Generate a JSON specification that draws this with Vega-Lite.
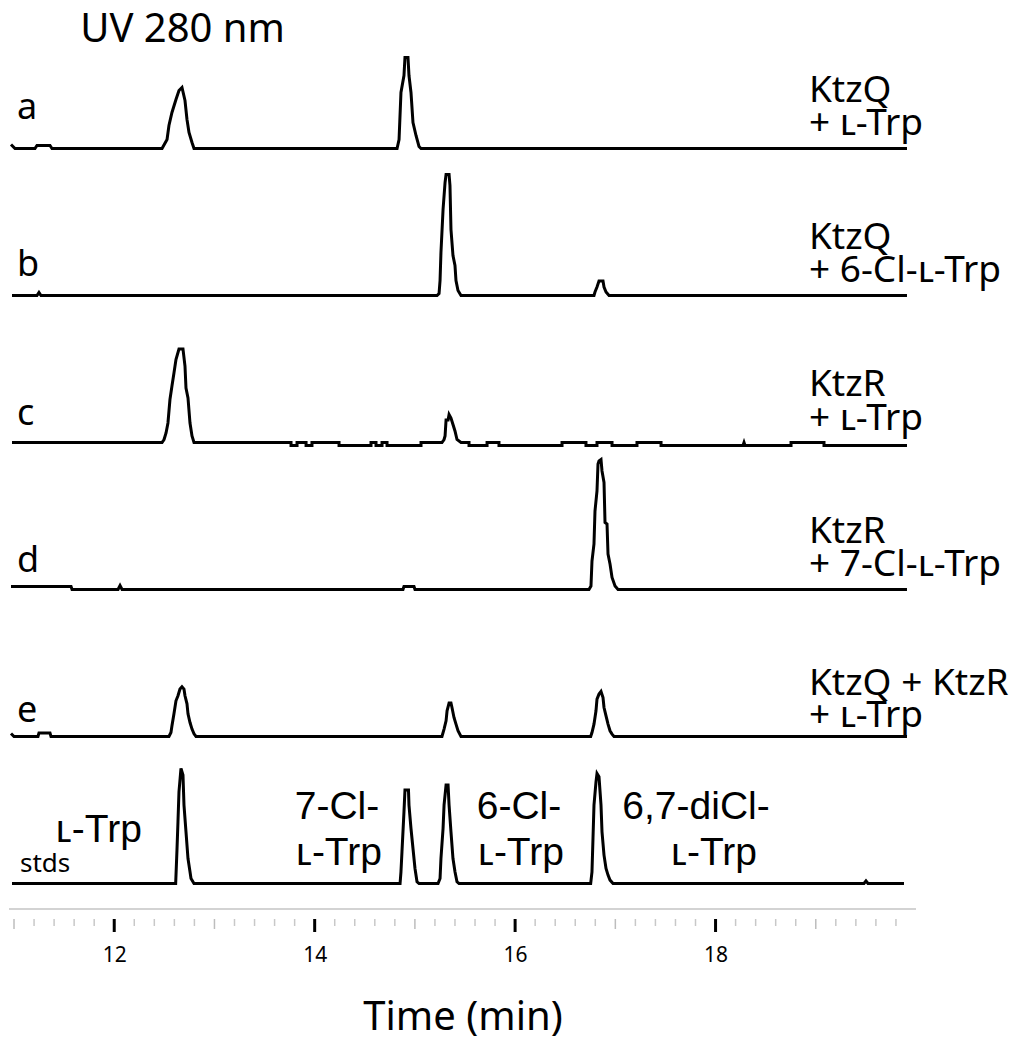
{
"$schema": "https://vega.github.io/schema/vega-lite/v6.json",
"padding": {"left": 5, "top": 10, "right": 0, "bottom": 0},
"background": "white",
"bounds": "flush",
"config": {"view": {"stroke": null}, "font": "Noto Sans"},
"data": {"values": [
{"p":"a","t":10.97,"v":4},{"p":"a","t":11.01,"v":0},{"p":"a","t":11.209,"v":0},{"p":"a","t":11.229,"v":3},{"p":"a","t":11.359,"v":3},{"p":"a","t":11.379,"v":0},{"p":"a","t":12.477,"v":0},{"p":"a","t":12.527,"v":9},{"p":"a","t":12.546,"v":23},{"p":"a","t":12.576,"v":36},{"p":"a","t":12.616,"v":49},{"p":"a","t":12.646,"v":58},{"p":"a","t":12.676,"v":61},{"p":"a","t":12.706,"v":48},{"p":"a","t":12.726,"v":29},{"p":"a","t":12.746,"v":16},{"p":"a","t":12.776,"v":6},{"p":"a","t":12.796,"v":0},{"p":"a","t":14.822,"v":0},{"p":"a","t":14.842,"v":9},{"p":"a","t":14.861,"v":56},{"p":"a","t":14.891,"v":73},{"p":"a","t":14.901,"v":91},{"p":"a","t":14.931,"v":91},{"p":"a","t":14.941,"v":73},{"p":"a","t":14.961,"v":56},{"p":"a","t":14.981,"v":26},{"p":"a","t":15.011,"v":13},{"p":"a","t":15.041,"v":2},{"p":"a","t":15.061,"v":0},{"p":"a","t":19.91,"v":0},
{"p":"b","t":10.98,"v":0},{"p":"b","t":11.229,"v":0},{"p":"b","t":11.249,"v":3},{"p":"b","t":11.269,"v":0},{"p":"b","t":15.221,"v":0},{"p":"b","t":15.241,"v":2},{"p":"b","t":15.251,"v":15},{"p":"b","t":15.26,"v":43},{"p":"b","t":15.281,"v":86},{"p":"b","t":15.301,"v":113},{"p":"b","t":15.311,"v":121},{"p":"b","t":15.341,"v":121},{"p":"b","t":15.35,"v":110},{"p":"b","t":15.36,"v":66},{"p":"b","t":15.38,"v":40},{"p":"b","t":15.4,"v":30},{"p":"b","t":15.41,"v":15},{"p":"b","t":15.43,"v":5},{"p":"b","t":15.46,"v":0},{"p":"b","t":16.787,"v":0},{"p":"b","t":16.797,"v":3.5},{"p":"b","t":16.817,"v":8.5},{"p":"b","t":16.837,"v":14.5},{"p":"b","t":16.877,"v":14.5},{"p":"b","t":16.887,"v":8.5},{"p":"b","t":16.907,"v":3.5},{"p":"b","t":16.937,"v":0},{"p":"b","t":19.91,"v":0},
{"p":"c","t":10.98,"v":0},{"p":"c","t":12.477,"v":0},{"p":"c","t":12.497,"v":3},{"p":"c","t":12.517,"v":9.5},{"p":"c","t":12.536,"v":19.5},{"p":"c","t":12.556,"v":43},{"p":"c","t":12.576,"v":56.5},{"p":"c","t":12.596,"v":69.5},{"p":"c","t":12.616,"v":83},{"p":"c","t":12.646,"v":93.5},{"p":"c","t":12.686,"v":93.5},{"p":"c","t":12.706,"v":76.5},{"p":"c","t":12.716,"v":54.5},{"p":"c","t":12.736,"v":44.5},{"p":"c","t":12.756,"v":19.5},{"p":"c","t":12.776,"v":6.5},{"p":"c","t":12.796,"v":0},{"p":"c","t":13.764,"v":0},{"p":"c","t":13.764,"v":-3},{"p":"c","t":13.824,"v":-3},{"p":"c","t":13.824,"v":0},{"p":"c","t":13.914,"v":0},{"p":"c","t":13.914,"v":-3},{"p":"c","t":13.973,"v":-3},{"p":"c","t":13.973,"v":0},{"p":"c","t":14.243,"v":0},{"p":"c","t":14.243,"v":-3},{"p":"c","t":14.562,"v":-3},{"p":"c","t":14.562,"v":0},{"p":"c","t":14.612,"v":0},{"p":"c","t":14.612,"v":-3},{"p":"c","t":14.672,"v":-3},{"p":"c","t":14.672,"v":0},{"p":"c","t":14.722,"v":0},{"p":"c","t":14.722,"v":-3},{"p":"c","t":15.061,"v":-3},{"p":"c","t":15.061,"v":0},{"p":"c","t":15.27,"v":0},{"p":"c","t":15.291,"v":3},{"p":"c","t":15.301,"v":6.5},{"p":"c","t":15.311,"v":22.5},{"p":"c","t":15.331,"v":22.5},{"p":"c","t":15.341,"v":28},{"p":"c","t":15.36,"v":24.5},{"p":"c","t":15.38,"v":18},{"p":"c","t":15.4,"v":11.5},{"p":"c","t":15.42,"v":3},{"p":"c","t":15.46,"v":0},{"p":"c","t":15.54,"v":0},{"p":"c","t":15.54,"v":-3},{"p":"c","t":15.72,"v":-3},{"p":"c","t":15.72,"v":0},{"p":"c","t":15.839,"v":0},{"p":"c","t":15.839,"v":-3},{"p":"c","t":16.468,"v":-3},{"p":"c","t":16.468,"v":0},{"p":"c","t":16.707,"v":0},{"p":"c","t":16.707,"v":-3},{"p":"c","t":16.817,"v":-3},{"p":"c","t":16.817,"v":0},{"p":"c","t":16.967,"v":0},{"p":"c","t":16.967,"v":-3},{"p":"c","t":17.216,"v":-3},{"p":"c","t":17.216,"v":0},{"p":"c","t":17.456,"v":0},{"p":"c","t":17.456,"v":-3},{"p":"c","t":18.274,"v":-3},{"p":"c","t":18.284,"v":0},{"p":"c","t":18.294,"v":-3},{"p":"c","t":18.753,"v":-3},{"p":"c","t":18.753,"v":0},{"p":"c","t":19.082,"v":0},{"p":"c","t":19.082,"v":-3},{"p":"c","t":19.91,"v":-3},
{"p":"d","t":10.97,"v":3},{"p":"d","t":11.569,"v":3},{"p":"d","t":11.579,"v":0},{"p":"d","t":12.038,"v":0},{"p":"d","t":12.058,"v":4},{"p":"d","t":12.078,"v":0},{"p":"d","t":14.881,"v":0},{"p":"d","t":14.891,"v":3},{"p":"d","t":14.991,"v":3},{"p":"d","t":15.001,"v":0},{"p":"d","t":16.737,"v":0},{"p":"d","t":16.757,"v":3.5},{"p":"d","t":16.767,"v":28.5},{"p":"d","t":16.787,"v":45.5},{"p":"d","t":16.797,"v":78.5},{"p":"d","t":16.817,"v":98.5},{"p":"d","t":16.827,"v":125.5},{"p":"d","t":16.837,"v":128.5},{"p":"d","t":16.857,"v":130},{"p":"d","t":16.867,"v":118.5},{"p":"d","t":16.887,"v":107},{"p":"d","t":16.897,"v":67},{"p":"d","t":16.917,"v":65.5},{"p":"d","t":16.927,"v":35.5},{"p":"d","t":16.947,"v":25.5},{"p":"d","t":16.967,"v":12},{"p":"d","t":16.997,"v":3.5},{"p":"d","t":17.027,"v":0},{"p":"d","t":19.91,"v":0},
{"p":"e","t":10.97,"v":3},{"p":"e","t":11.0,"v":0},{"p":"e","t":11.239,"v":0},{"p":"e","t":11.249,"v":3.5},{"p":"e","t":11.359,"v":3.5},{"p":"e","t":11.369,"v":0},{"p":"e","t":12.546,"v":0},{"p":"e","t":12.566,"v":4},{"p":"e","t":12.576,"v":10.7},{"p":"e","t":12.596,"v":22.7},{"p":"e","t":12.616,"v":35.7},{"p":"e","t":12.636,"v":40.7},{"p":"e","t":12.656,"v":47.4},{"p":"e","t":12.676,"v":49.7},{"p":"e","t":12.696,"v":47.4},{"p":"e","t":12.706,"v":40.7},{"p":"e","t":12.726,"v":32.7},{"p":"e","t":12.736,"v":22.7},{"p":"e","t":12.756,"v":14},{"p":"e","t":12.776,"v":7.4},{"p":"e","t":12.796,"v":2.7},{"p":"e","t":12.816,"v":0},{"p":"e","t":15.27,"v":0},{"p":"e","t":15.291,"v":7.4},{"p":"e","t":15.311,"v":15.7},{"p":"e","t":15.321,"v":25.7},{"p":"e","t":15.341,"v":33.4},{"p":"e","t":15.36,"v":33.4},{"p":"e","t":15.37,"v":29},{"p":"e","t":15.39,"v":19},{"p":"e","t":15.41,"v":12.4},{"p":"e","t":15.43,"v":5.7},{"p":"e","t":15.46,"v":0},{"p":"e","t":16.754,"v":0},{"p":"e","t":16.767,"v":4},{"p":"e","t":16.787,"v":12.4},{"p":"e","t":16.807,"v":25.7},{"p":"e","t":16.817,"v":37.4},{"p":"e","t":16.837,"v":42.4},{"p":"e","t":16.857,"v":45},{"p":"e","t":16.877,"v":39},{"p":"e","t":16.887,"v":29},{"p":"e","t":16.907,"v":20.7},{"p":"e","t":16.927,"v":12.4},{"p":"e","t":16.947,"v":5.7},{"p":"e","t":16.967,"v":2.4},{"p":"e","t":16.987,"v":0},{"p":"e","t":19.91,"v":0},
{"p":"stds","t":10.98,"v":0},{"p":"stds","t":12.613,"v":0},{"p":"stds","t":12.626,"v":33.4},{"p":"stds","t":12.636,"v":61.7},{"p":"stds","t":12.646,"v":91.7},{"p":"stds","t":12.666,"v":115},{"p":"stds","t":12.686,"v":108.4},{"p":"stds","t":12.696,"v":78.4},{"p":"stds","t":12.716,"v":51.7},{"p":"stds","t":12.736,"v":25},{"p":"stds","t":12.756,"v":11.7},{"p":"stds","t":12.766,"v":5},{"p":"stds","t":12.796,"v":0},{"p":"stds","t":14.852,"v":0},{"p":"stds","t":14.861,"v":11.7},{"p":"stds","t":14.871,"v":31.7},{"p":"stds","t":14.891,"v":71.7},{"p":"stds","t":14.901,"v":93.4},{"p":"stds","t":14.936,"v":93.4},{"p":"stds","t":14.941,"v":78.4},{"p":"stds","t":14.961,"v":55},{"p":"stds","t":14.981,"v":35},{"p":"stds","t":15.001,"v":15},{"p":"stds","t":15.021,"v":1.7},{"p":"stds","t":15.041,"v":0},{"p":"stds","t":15.231,"v":0},{"p":"stds","t":15.251,"v":5},{"p":"stds","t":15.26,"v":25},{"p":"stds","t":15.281,"v":55},{"p":"stds","t":15.291,"v":78.4},{"p":"stds","t":15.311,"v":98.4},{"p":"stds","t":15.331,"v":98.4},{"p":"stds","t":15.341,"v":78.4},{"p":"stds","t":15.36,"v":51.7},{"p":"stds","t":15.38,"v":25},{"p":"stds","t":15.4,"v":11.7},{"p":"stds","t":15.42,"v":1.7},{"p":"stds","t":15.44,"v":0},{"p":"stds","t":16.754,"v":0},{"p":"stds","t":16.767,"v":11.7},{"p":"stds","t":16.777,"v":45},{"p":"stds","t":16.787,"v":78.4},{"p":"stds","t":16.807,"v":101.7},{"p":"stds","t":16.817,"v":110},{"p":"stds","t":16.837,"v":106.7},{"p":"stds","t":16.857,"v":78.4},{"p":"stds","t":16.867,"v":51.7},{"p":"stds","t":16.887,"v":28.4},{"p":"stds","t":16.907,"v":15},{"p":"stds","t":16.927,"v":8.4},{"p":"stds","t":16.947,"v":3.4},{"p":"stds","t":16.977,"v":0},{"p":"stds","t":19.481,"v":0},{"p":"stds","t":19.501,"v":2.5},{"p":"stds","t":19.521,"v":0},{"p":"stds","t":19.88,"v":0},
{"p":"a","role":"uv","txt":"UV 280 nm","t":11.66,"v":106.5},
{"p":"a","role":"tag","txt":"a","t":11.03,"v":30},
{"p":"b","role":"tag","txt":"b","t":11.03,"v":20},
{"p":"c","role":"tag","txt":"c","t":11.03,"v":18},
{"p":"d","role":"tag","txt":"d","t":11.03,"v":18},
{"p":"e","role":"tag","txt":"e","t":11.03,"v":15},
{"p":"stds","role":"small","txt":"stds","t":11.06,"v":12},
{"p":"a","role":"cond","txt":"KtzQ","t":18.932,"v":46.5},
{"p":"a","role":"cond","txt":"+ ʟ-Trp","t":18.932,"v":13.5},
{"p":"b","role":"cond","txt":"KtzQ","t":18.932,"v":46.5},
{"p":"b","role":"cond","txt":"+ 6-Cl-ʟ-Trp","t":18.932,"v":13.5},
{"p":"c","role":"cond","txt":"KtzR","t":18.932,"v":47},
{"p":"c","role":"cond","txt":"+ ʟ-Trp","t":18.932,"v":12.5},
{"p":"d","role":"cond","txt":"KtzR","t":18.932,"v":46.5},
{"p":"d","role":"cond","txt":"+ 7-Cl-ʟ-Trp","t":18.932,"v":13.5},
{"p":"e","role":"cond","txt":"KtzQ + KtzR","t":18.932,"v":41.5},
{"p":"e","role":"cond","txt":"+ ʟ-Trp","t":18.932,"v":9.5},
{"p":"stds","role":"std","txt":"ʟ-Trp","t":11.848,"v":41.5},
{"p":"stds","role":"std","txt":"7-Cl-","t":14.223,"v":64.5},
{"p":"stds","role":"std","txt":"ʟ-Trp","t":14.243,"v":18.5},
{"p":"stds","role":"std","txt":"6-Cl-","t":16.039,"v":64.5},
{"p":"stds","role":"std","txt":"ʟ-Trp","t":16.059,"v":18.5},
{"p":"stds","role":"std","txt":"6,7-diCl-","t":17.805,"v":64.5},
{"p":"stds","role":"std","txt":"ʟ-Trp","t":17.985,"v":18.5},
{"p":"stds","role":"tk","k":"major","t":12},{"p":"stds","role":"tk","k":"major","t":14},{"p":"stds","role":"tk","k":"major","t":16},{"p":"stds","role":"tk","k":"major","t":18},
{"p":"stds","role":"tk","k":"mid","t":11},{"p":"stds","role":"tk","k":"mid","t":13},{"p":"stds","role":"tk","k":"mid","t":15},{"p":"stds","role":"tk","k":"mid","t":17},{"p":"stds","role":"tk","k":"mid","t":19},
{"p":"stds","role":"tk","k":"minor","t":11.2},{"p":"stds","role":"tk","k":"minor","t":11.4},{"p":"stds","role":"tk","k":"minor","t":11.6},{"p":"stds","role":"tk","k":"minor","t":11.8},
{"p":"stds","role":"tk","k":"minor","t":12.2},{"p":"stds","role":"tk","k":"minor","t":12.4},{"p":"stds","role":"tk","k":"minor","t":12.6},{"p":"stds","role":"tk","k":"minor","t":12.8},
{"p":"stds","role":"tk","k":"minor","t":13.2},{"p":"stds","role":"tk","k":"minor","t":13.4},{"p":"stds","role":"tk","k":"minor","t":13.6},{"p":"stds","role":"tk","k":"minor","t":13.8},
{"p":"stds","role":"tk","k":"minor","t":14.2},{"p":"stds","role":"tk","k":"minor","t":14.4},{"p":"stds","role":"tk","k":"minor","t":14.6},{"p":"stds","role":"tk","k":"minor","t":14.8},
{"p":"stds","role":"tk","k":"minor","t":15.2},{"p":"stds","role":"tk","k":"minor","t":15.4},{"p":"stds","role":"tk","k":"minor","t":15.6},{"p":"stds","role":"tk","k":"minor","t":15.8},
{"p":"stds","role":"tk","k":"minor","t":16.2},{"p":"stds","role":"tk","k":"minor","t":16.4},{"p":"stds","role":"tk","k":"minor","t":16.6},{"p":"stds","role":"tk","k":"minor","t":16.8},
{"p":"stds","role":"tk","k":"minor","t":17.2},{"p":"stds","role":"tk","k":"minor","t":17.4},{"p":"stds","role":"tk","k":"minor","t":17.6},{"p":"stds","role":"tk","k":"minor","t":17.8},
{"p":"stds","role":"tk","k":"minor","t":18.2},{"p":"stds","role":"tk","k":"minor","t":18.4},{"p":"stds","role":"tk","k":"minor","t":18.6},{"p":"stds","role":"tk","k":"minor","t":18.8},
{"p":"stds","role":"tk","k":"minor","t":19.2},{"p":"stds","role":"tk","k":"minor","t":19.4},{"p":"stds","role":"tk","k":"minor","t":19.6},{"p":"stds","role":"tk","k":"minor","t":19.8}
]},
"facet": {"row": {"field": "p", "type": "nominal", "header": {"labels": false, "title": null}, "title": null, "sort": ["a","b","c","d","e","stds"]}},
"spacing": 0,
"spec": {
"width": 907,
"height": 147,
"layer": [
{"transform": [{"filter": "!datum.role"}],
 "mark": {"type": "line", "color": "black", "strokeWidth": 3},
 "encoding": {
  "x": {"field": "t", "type": "quantitative", "title": "Time (min)", "scale": {"domain": [10.95, 20.0], "nice": false, "zero": false},
   "axis": {"title": "Time (min)", "values": [12, 14, 16, 18], "format": "d",
    "domain": false, "grid": false, "offset": 10, "tickSize": 13, "tickOpacity": 0,
    "labelOverlap": false, "labelFlush": false, "labelFontSize": 21, "labelColor": "black", "labelPadding": 12,
    "titleFontSize": 40, "titleFontWeight": "normal", "titleColor": "black", "titlePadding": 32}},
  "y": {"field": "v", "type": "quantitative", "scale": {"domain": [-25.5, 121.5], "nice": false, "zero": false}, "axis": null},
  "order": {"value": null}
 }},
{"transform": [{"filter": "datum.role === 'small' && datum.p === 'stds'"}],
 "mark": {"type": "rule", "color": "#c4c4c4", "strokeWidth": 1.5},
 "encoding": {"y": {"datum": -25.5, "type": "quantitative", "axis": null}}},
{"transform": [{"filter": "datum.role === 'tk' && datum.k === 'minor'"}],
 "mark": {"type": "rule", "color": "#c8c8c8", "strokeWidth": 1.5},
 "encoding": {"x": {"field": "t", "type": "quantitative", "title": "Time (min)"}, "y": {"datum": -35.5, "type": "quantitative", "axis": null}, "y2": {"datum": -42.5}}},
{"transform": [{"filter": "datum.role === 'tk' && datum.k === 'mid'"}],
 "mark": {"type": "rule", "color": "#bdbdbd", "strokeWidth": 1.5},
 "encoding": {"x": {"field": "t", "type": "quantitative", "title": "Time (min)"}, "y": {"datum": -35.5, "type": "quantitative", "axis": null}, "y2": {"datum": -45.5}}},
{"transform": [{"filter": "datum.role === 'tk' && datum.k === 'major'"}],
 "mark": {"type": "rule", "color": "black", "strokeWidth": 3},
 "encoding": {"x": {"field": "t", "type": "quantitative", "title": "Time (min)"}, "y": {"datum": -35.5, "type": "quantitative", "axis": null}, "y2": {"datum": -48.5}}},
{"transform": [{"filter": "datum.role === 'tag'"}],
 "mark": {"type": "text", "align": "left", "baseline": "alphabetic", "fontSize": 36, "color": "black"},
 "encoding": {"x": {"field": "t", "type": "quantitative", "title": "Time (min)"}, "y": {"field": "v", "type": "quantitative", "axis": null}, "text": {"field": "txt"}}},
{"transform": [{"filter": "datum.role === 'small'"}],
 "mark": {"type": "text", "align": "left", "baseline": "alphabetic", "fontSize": 26, "color": "black"},
 "encoding": {"x": {"field": "t", "type": "quantitative", "title": "Time (min)"}, "y": {"field": "v", "type": "quantitative", "axis": null}, "text": {"field": "txt"}}},
{"transform": [{"filter": "datum.role === 'uv'"}],
 "mark": {"type": "text", "align": "left", "baseline": "alphabetic", "fontSize": 40, "color": "black"},
 "encoding": {"x": {"field": "t", "type": "quantitative", "title": "Time (min)"}, "y": {"field": "v", "type": "quantitative", "axis": null}, "text": {"field": "txt"}}},
{"transform": [{"filter": "datum.role === 'cond'"}],
 "mark": {"type": "text", "align": "left", "baseline": "alphabetic", "fontSize": 37, "color": "black"},
 "encoding": {"x": {"field": "t", "type": "quantitative", "title": "Time (min)"}, "y": {"field": "v", "type": "quantitative", "axis": null}, "text": {"field": "txt"}}},
{"transform": [{"filter": "datum.role === 'std'"}],
 "mark": {"type": "text", "align": "center", "baseline": "alphabetic", "fontSize": 39, "font": "Liberation Sans", "color": "black"},
 "encoding": {"x": {"field": "t", "type": "quantitative", "title": "Time (min)"}, "y": {"field": "v", "type": "quantitative", "axis": null}, "text": {"field": "txt"}}}
]
}
}
